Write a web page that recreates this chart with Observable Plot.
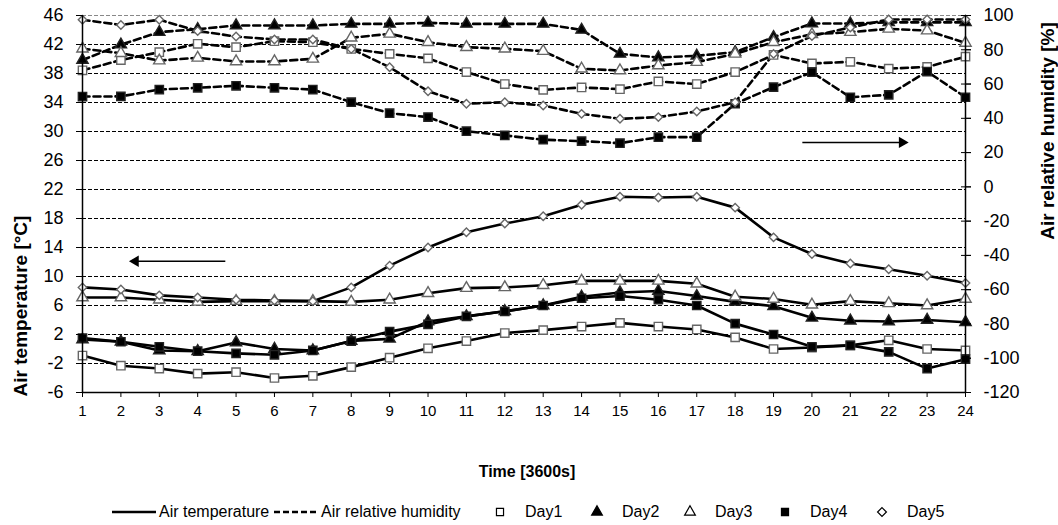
<!DOCTYPE html>
<html>
<head>
<meta charset="utf-8">
<script src="https://cdn.jsdelivr.net/npm/d3@7"></script>
<script src="https://cdn.jsdelivr.net/npm/@observablehq/plot@0.6"></script>
<style>
  html, body { margin: 0; padding: 0; background: #fff; }
  #chart { width: 1058px; font-family: "Liberation Sans", Arial, sans-serif; }
  #chart svg { display: block; }
</style>
</head>
<body>
<div id="chart"></div>
<script>
// ---------- data ----------
const hours = [1,2,3,4,5,6,7,8,9,10,11,12,13,14,15,16,17,18,19,20,21,22,23,24];
const days = ["Day1", "Day2", "Day3", "Day4", "Day5"];

// Air temperature [°C]
const tempDay1 = [-0.9,-2.3,-2.7,-3.4,-3.2,-4.0,-3.7,-2.5,-1.2,0.1,1.1,2.2,2.6,3.1,3.6,3.1,2.7,1.6,0.0,0.2,0.5,1.2,0.0,-0.2];
const tempDay2 = [1.3,1.0,-0.2,-0.3,0.9,0.0,-0.2,1.1,1.4,3.8,4.5,5.2,6.0,7.2,7.8,8.0,7.3,6.5,5.9,4.3,3.9,3.8,4.0,3.7];
const tempDay3 = [7.1,7.1,6.8,6.5,6.6,6.6,6.6,6.5,6.8,7.7,8.4,8.5,8.8,9.4,9.4,9.4,9.0,7.2,6.9,6.1,6.6,6.3,6.0,6.9];
const tempDay4 = [1.5,1.0,0.3,-0.3,-0.6,-0.8,-0.2,1.1,2.4,3.4,4.5,5.2,6.0,7.0,7.3,6.8,6.0,3.5,2.0,0.3,0.5,-0.4,-2.7,-1.4];
const tempDay5 = [8.5,8.2,7.4,7.1,6.8,6.7,6.6,8.5,11.5,14.0,16.1,17.3,18.3,19.9,21.0,20.9,21.0,19.5,15.4,13.1,11.8,11.0,10.1,9.1];

// Air relative humidity [%]
const humDay1 = [68,74,78.6,83.5,81.5,85,84.4,80.5,77.6,75,67,60,56.6,58,57,61.5,60,67,77,72,73,69,70,76];
const humDay2 = [74,83,90.3,92,94.2,94.2,94.2,95.1,95.1,95.7,95.1,95.1,95.1,91.6,77.6,75.5,76.5,78.6,87.4,95.3,95.3,96,96,96];
const humDay3 = [80.6,78,73.7,75.3,73.2,73.2,74.7,87,89.3,84.4,81.5,80.6,79.2,68.9,67.9,70.8,72.8,77.6,84.4,89,90.3,92.2,91.2,84];
const humDay4 = [52.7,52.8,56.8,57.8,59,57.8,56.8,49.4,43,40.7,32.5,30,27.5,26.7,25.5,29,29,48.5,58.2,66.9,52.3,53.7,67.3,52.3];
const humDay5 = [97.5,94.5,97.5,91,87.7,86,86,80.5,69.8,55.8,48.5,49.4,47.5,42.6,39.7,40.7,44,49.4,77.6,88,93,97.7,97.7,97.7];

// axis ticks
const tempTicks = [-6,-2,2,6,10,14,18,22,26,30,34,38,42,46];
const humTicks = [-120,-100,-80,-60,-40,-20,0,20,40,60,80,100];

// direction arrows (hour, temperature units)
const arrows = [
  {x1: 4.72, x2: 2.38, y: 12.1, dir: -90},
  {x1: 19.75, x2: 22.35, y: 28.5, dir: 90}
];

// ---------- build ----------
const tempSeries = [tempDay1, tempDay2, tempDay3, tempDay4, tempDay5];
const humSeries = [humDay1, humDay2, humDay3, humDay4, humDay5];
const T0 = -6, T1 = 46, H0 = -120, H1 = 100;
const h2t = h => T0 + (h - H0) * (T1 - T0) / (H1 - H0);
const t2h = t => H0 + (t - T0) * (H1 - H0) / (T1 - T0);

const rows = [];
days.forEach((d, i) => hours.forEach((hr, j) => {
  rows.push({day: d, hour: hr, temp: tempSeries[i][j], hum: humSeries[i][j]});
}));

const styles = {
  Day1: {symbol: "square", fill: "#fff", stroke: "#666", r: 4.7},
  Day2: {symbol: "triangle", fill: "#000", stroke: "#222", r: 4.2},
  Day3: {symbol: "triangle", fill: "#fff", stroke: "#666", r: 4.2},
  Day4: {symbol: "square", fill: "#000", stroke: "#222", r: 4.7},
  Day5: {symbol: "diamond2", fill: "#fff", stroke: "#666", r: 3.8}
};

const marks = [
  Plot.ruleY(tempTicks.filter(t => t > T0), {y: d => d, stroke: d => d === T1 ? "#888" : "#000", strokeWidth: 1, strokeDasharray: "4,2"}),
];
// humidity lines (dashed)
days.forEach(d => {
  marks.push(Plot.line(rows.filter(r => r.day === d), {x: "hour", y: r => h2t(r.hum), stroke: "#000", strokeWidth: 2.6, strokeDasharray: "7,4"}));
});
// temperature lines (solid)
days.forEach(d => {
  marks.push(Plot.line(rows.filter(r => r.day === d), {x: "hour", y: "temp", stroke: "#000", strokeWidth: 2.6}));
});
// markers
days.forEach(d => {
  const s = styles[d];
  const sub = rows.filter(r => r.day === d);
  marks.push(Plot.dot(sub, {x: "hour", y: r => h2t(r.hum), symbol: () => s.symbol, r: s.r, fill: s.fill, stroke: s.stroke, strokeWidth: 1.4}));
  marks.push(Plot.dot(sub, {x: "hour", y: "temp", symbol: () => s.symbol, r: s.r, fill: s.fill, stroke: s.stroke, strokeWidth: 1.4}));
});
// arrows
marks.push(Plot.link(arrows, {x1: "x1", x2: "x2", y1: "y", y2: "y", stroke: "#000", strokeWidth: 1.5}));
marks.push(Plot.dot(arrows, {x: "x2", y: "y", symbol: "triangle", r: 4.2, fill: "#000", stroke: "none", rotate: "dir"}));
// frame lines
marks.push(Plot.ruleY([T0], {stroke: "#000", strokeWidth: 1.5}));
marks.push(Plot.ruleX([hours[0]], {stroke: "#000", strokeWidth: 1.5}));
marks.push(Plot.ruleX([hours[hours.length - 1]], {stroke: "#000", strokeWidth: 1.5}));
// axes
marks.push(Plot.axisY(tempTicks, {anchor: "left", tickSize: 6, tickPadding: 13, fontSize: 18, label: null, tickFormat: d => String(d)}));
marks.push(Plot.axisY(humTicks.map(h2t), {anchor: "right", tickSize: 5, tickPadding: 13, fontSize: 18, label: null, tickFormat: t => String(Math.round(t2h(t)))}));
marks.push(Plot.axisY(humTicks.map(h2t), {anchor: "right", tickSize: 10, dx: -5, label: null, tickFormat: () => ""}));
marks.push(Plot.axisX(hours, {anchor: "bottom", tickSize: 5, tickPadding: 8, fontSize: 15, label: null, tickFormat: d => String(d)}));

const chart = Plot.plot({
  width: 1058,
  height: 485,
  marginTop: 15,
  marginBottom: 93,
  marginLeft: 82,
  marginRight: 93,
  style: {fontFamily: '"Liberation Sans", Arial, sans-serif', color: "#000", background: "#fff"},
  x: {domain: [hours[0], hours[hours.length - 1]]},
  y: {domain: [T0, T1]},
  marks
});

const svg = d3.select(chart);
svg.append("text")
  .attr("transform", "translate(27,306) rotate(-90)")
  .attr("text-anchor", "middle")
  .attr("font-weight", "bold").attr("font-size", 19)
  .attr("fill", "#000")
  .text("Air temperature [°C]");
svg.append("text")
  .attr("transform", "translate(1054,131) rotate(-90)")
  .attr("text-anchor", "middle")
  .attr("font-weight", "bold").attr("font-size", 19)
  .attr("fill", "#000")
  .text("Air relative humidity [%]");
svg.append("text")
  .attr("x", 527).attr("y", 477)
  .attr("text-anchor", "middle")
  .attr("font-weight", "bold").attr("font-size", 16)
  .attr("fill", "#000")
  .text("Time [3600s]");

document.getElementById("chart").appendChild(chart);

// ---------- legend ----------
const lg = d3.create("svg").attr("width", 1058).attr("height", 40)
  .style("font-family", '"Liberation Sans", Arial, sans-serif');
const cy = 27;
const lineItems = [
  {label: "Air temperature", x: 112, dash: null},
  {label: "Air relative humidity", x: 274, dash: "6,3"}
];
lineItems.forEach(it => {
  lg.append("line").attr("x1", it.x).attr("x2", it.x + 44).attr("y1", cy).attr("y2", cy)
    .attr("stroke", "#000").attr("stroke-width", 2.6).attr("stroke-dasharray", it.dash);
  lg.append("text").attr("x", it.x + 47).attr("y", cy + 5).attr("font-size", 16).text(it.label);
});
const symItems = [
  {label: "Day1", x: 500},
  {label: "Day2", x: 597},
  {label: "Day3", x: 690},
  {label: "Day4", x: 785},
  {label: "Day5", x: 882}
];
const symGen = {square: d3.symbolSquare, triangle: d3.symbolTriangle, diamond2: d3.symbolDiamond2};
symItems.forEach((it, i) => {
  const s = styles[days[i]];
  lg.append("path")
    .attr("d", d3.symbol(symGen[s.symbol], 50)())
    .attr("transform", `translate(${it.x},${cy})`)
    .attr("fill", s.fill === "#fff" ? "#fff" : "#000")
    .attr("stroke", "#000").attr("stroke-width", 1.2);
  lg.append("text").attr("x", it.x + 25).attr("y", cy + 5).attr("font-size", 16).text(it.label);
});
document.getElementById("chart").appendChild(lg.node());
</script>
</body>
</html>
